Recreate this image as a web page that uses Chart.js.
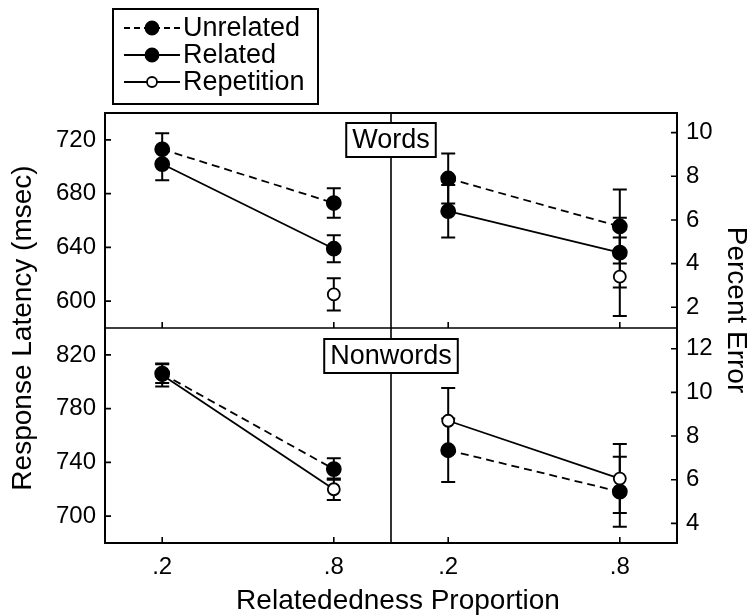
<!DOCTYPE html>
<html>
<head>
<meta charset="utf-8">
<script src="https://cdn.jsdelivr.net/npm/chart.js@4.4.0/dist/chart.umd.min.js"></script>
<style>
  html, body { margin: 0; padding: 0; background: #fff; }
  #wrap { position: relative; width: 749px; height: 615px; }
</style>
</head>
<body>
<div id="wrap"><canvas id="chart" width="749" height="615"></canvas></div>
<script>
// relatedness proportion (x) and its tick labels
var proportions = [0.2, 0.8];
var xTickLabels = [".2", ".8"];

// y tick values of each panel
var latTicksWords = [600, 640, 680, 720];
var latTicksNonwords = [700, 740, 780, 820];
var errTicksWords = [2, 4, 6, 8, 10];
var errTicksNonwords = [4, 6, 8, 10, 12];

// Words - response latency (msec)
var wordsLatUnrelated = [713, 673];
var wordsLatUnrelatedSE = [12, 11];
var wordsLatRelated = [702, 639];
var wordsLatRelatedSE = [12, 10];
var wordsLatRepetition = [null, 605];
var wordsLatRepetitionSE = [null, 12];

// Words - percent error
var wordsErrUnrelated = [7.9, 5.7];
var wordsErrUnrelatedSE = [1.15, 1.7];
var wordsErrRelated = [6.4, 4.5];
var wordsErrRelatedSE = [1.2, 1.6];
var wordsErrRepetition = [null, 3.4];
var wordsErrRepetitionSE = [null, 1.8];

// Nonwords - response latency (msec)
var nonLatUnrelated = [806, 735];
var nonLatUnrelatedSE = [7, 8];
var nonLatRepetition = [805, 720];
var nonLatRepetitionSE = [8.5, 8];

// Nonwords - percent error
var nonErrUnrelated = [7.35, 5.45];
var nonErrUnrelatedSE = [1.45, 1.6];
var nonErrRepetition = [8.7, 6.05];
var nonErrRepetitionSE = [1.5, 1.58];

var FONT = "'Liberation Sans', Arial, Helvetica, sans-serif";

var styles = {
  Unrelated: { dash: [8, 5], fill: "#000", radius: 7 },
  Related: { dash: [], fill: "#000", radius: 7 },
  Repetition: { dash: [], fill: "#fff", radius: 6 }
};

function series(name, values, se, xId, yId) {
  var st = styles[name];
  return {
    label: name,
    data: proportions.map(function (p, i) { return { x: p, y: values[i] }; }),
    se: se,
    xAxisID: xId,
    yAxisID: yId,
    borderColor: "#000",
    borderWidth: 1.8,
    borderDash: st.dash,
    pointRadius: st.radius,
    pointBackgroundColor: st.fill,
    pointBorderColor: "#000",
    pointBorderWidth: 1.8,
    tension: 0,
    spanGaps: false
  };
}

function fixedTicks(list) {
  return function (scale) {
    scale.ticks = list.map(function (v) { return { value: v }; });
  };
}

function yAxis(pos, min, max, tickList) {
  return {
    type: "linear",
    position: pos,
    stack: pos,
    stackWeight: 1,
    min: min,
    max: max,
    afterBuildTicks: fixedTicks(tickList),
    afterFit: function (s) { s.width = pos === "left" ? 105 : 72; },
    grid: { display: false, drawTicks: false },
    border: { display: false },
    ticks: { autoSkip: false, padding: 9, color: "#000", font: { size: 24 } }
  };
}

function xAxis() {
  return {
    type: "linear",
    position: "bottom",
    stack: "x",
    stackWeight: 1,
    min: 0,
    max: 1,
    afterBuildTicks: fixedTicks(proportions),
    afterFit: function (s) { s.height = 72; },
    grid: { display: false, drawTicks: false },
    border: { display: false },
    ticks: {
      autoSkip: false, padding: 10, color: "#000", font: { size: 24 },
      callback: function (v, i) { return xTickLabels[i]; }
    }
  };
}

// error bars, frame, inward ticks, panel labels, legend and axis titles
var panelPlugin = {
  id: "panels",
  beforeDatasetsDraw: function (chart) {
    var ctx = chart.ctx;
    ctx.save();
    ctx.strokeStyle = "#000";
    ctx.lineWidth = 2;
    chart.data.datasets.forEach(function (ds) {
      var xs = chart.scales[ds.xAxisID], ys = chart.scales[ds.yAxisID];
      ds.data.forEach(function (pt, j) {
        if (pt.y == null || ds.se[j] == null) return;
        var x = xs.getPixelForValue(pt.x);
        var y1 = ys.getPixelForValue(pt.y + ds.se[j]);
        var y2 = ys.getPixelForValue(pt.y - ds.se[j]);
        ctx.beginPath();
        ctx.moveTo(x, y1); ctx.lineTo(x, y2);
        ctx.moveTo(x - 7, y1); ctx.lineTo(x + 7, y1);
        ctx.moveTo(x - 7, y2); ctx.lineTo(x + 7, y2);
        ctx.stroke();
      });
    });
    ctx.restore();
  },
  afterDatasetsDraw: function (chart) {
    var ctx = chart.ctx, a = chart.chartArea, s = chart.scales;
    var midX = s.xL.right, midY = s.yTopL.bottom;
    ctx.save();
    ctx.strokeStyle = "#000";
    ctx.fillStyle = "#000";
    ctx.lineWidth = 2;
    ctx.strokeRect(a.left, a.top, a.right - a.left, a.bottom - a.top);
    ctx.lineWidth = 1.6;
    ctx.beginPath();
    ctx.moveTo(midX, a.top); ctx.lineTo(midX, a.bottom);
    ctx.moveTo(a.left, midY); ctx.lineTo(a.right, midY);
    ctx.stroke();

    // inward tick marks
    ctx.lineWidth = 1.6;
    ctx.beginPath();
    ["yTopL", "yBotL", "yTopR", "yBotR"].forEach(function (id) {
      var sc = s[id];
      sc.ticks.forEach(function (t) {
        var y = sc.getPixelForValue(t.value);
        if (sc.position === "left") { ctx.moveTo(a.left, y); ctx.lineTo(a.left + 6, y); }
        else { ctx.moveTo(a.right, y); ctx.lineTo(a.right - 6, y); }
      });
    });
    ["xL", "xR"].forEach(function (id) {
      var sc = s[id];
      sc.ticks.forEach(function (t) {
        var x = sc.getPixelForValue(t.value);
        [midY, a.bottom].forEach(function (yb) { ctx.moveTo(x, yb); ctx.lineTo(x, yb - 6); });
      });
    });
    ctx.stroke();

    // Words / Nonwords labels
    ctx.font = "27px " + FONT;
    ctx.textAlign = "center";
    ctx.textBaseline = "middle";
    [["Words", a.top + 27], ["Nonwords", midY + 28]].forEach(function (lab) {
      var w = ctx.measureText(lab[0]).width + 12;
      ctx.fillStyle = "#fff";
      ctx.fillRect(midX - w / 2, lab[1] - 17, w, 34);
      ctx.lineWidth = 2;
      ctx.strokeRect(midX - w / 2, lab[1] - 17, w, 34);
      ctx.fillStyle = "#000";
      ctx.fillText(lab[0], midX, lab[1] + 1);
    });

    // legend
    ctx.fillStyle = "#fff";
    ctx.fillRect(113, 9, 205, 95);
    ctx.lineWidth = 2;
    ctx.strokeRect(113, 9, 205, 95);
    ["Unrelated", "Related", "Repetition"].forEach(function (name, i) {
      var st = styles[name], y = 28 + i * 27;
      ctx.lineWidth = 1.8;
      ctx.setLineDash(st.dash.length ? [6, 4] : []);
      ctx.beginPath(); ctx.moveTo(124, y); ctx.lineTo(180, y); ctx.stroke();
      ctx.setLineDash([]);
      ctx.beginPath();
      ctx.arc(152, y, name === "Repetition" ? 5 : 6.5, 0, Math.PI * 2);
      ctx.fillStyle = st.fill; ctx.fill(); ctx.stroke();
      ctx.fillStyle = "#000";
      ctx.textAlign = "left";
      ctx.fillText(name, 183, y + 1);
    });

    // axis titles
    ctx.font = "28px " + FONT;
    ctx.textAlign = "center";
    ctx.fillText("Relatededness Proportion", 398, 601);
    ctx.save();
    ctx.translate(23, 328);
    ctx.rotate(-Math.PI / 2);
    ctx.fillText("Response Latency (msec)", 0, 0);
    ctx.restore();
    ctx.save();
    ctx.translate(736, 310);
    ctx.rotate(Math.PI / 2);
    ctx.fillText("Percent Error", 0, 0);
    ctx.restore();
    ctx.restore();
  }
};

Chart.defaults.font.family = FONT;
Chart.defaults.color = "#000";

new Chart(document.getElementById("chart"), {
  type: "line",
  data: {
    datasets: [
      series("Unrelated", wordsLatUnrelated, wordsLatUnrelatedSE, "xL", "yTopL"),
      series("Related", wordsLatRelated, wordsLatRelatedSE, "xL", "yTopL"),
      series("Repetition", wordsLatRepetition, wordsLatRepetitionSE, "xL", "yTopL"),
      series("Unrelated", wordsErrUnrelated, wordsErrUnrelatedSE, "xR", "yTopR"),
      series("Related", wordsErrRelated, wordsErrRelatedSE, "xR", "yTopR"),
      series("Repetition", wordsErrRepetition, wordsErrRepetitionSE, "xR", "yTopR"),
      series("Unrelated", nonLatUnrelated, nonLatUnrelatedSE, "xL", "yBotL"),
      series("Repetition", nonLatRepetition, nonLatRepetitionSE, "xL", "yBotL"),
      series("Unrelated", nonErrUnrelated, nonErrUnrelatedSE, "xR", "yBotR"),
      series("Repetition", nonErrRepetition, nonErrRepetitionSE, "xR", "yBotR")
    ]
  },
  options: {
    responsive: false,
    animation: false,
    events: [],
    layout: { padding: { top: 113, left: 0, right: 0, bottom: 0 } },
    plugins: { legend: { display: false }, tooltip: { enabled: false } },
    scales: {
      xL: xAxis(),
      xR: xAxis(),
      yBotL: yAxis("left", 680, 840, latTicksNonwords),
      yTopL: yAxis("left", 580, 740, latTicksWords),
      yTopR: yAxis("right", 1.05, 10.9, errTicksWords),
      yBotR: yAxis("right", 3.1, 12.95, errTicksNonwords)
    }
  },
  plugins: [panelPlugin]
});
</script>
</body>
</html>
